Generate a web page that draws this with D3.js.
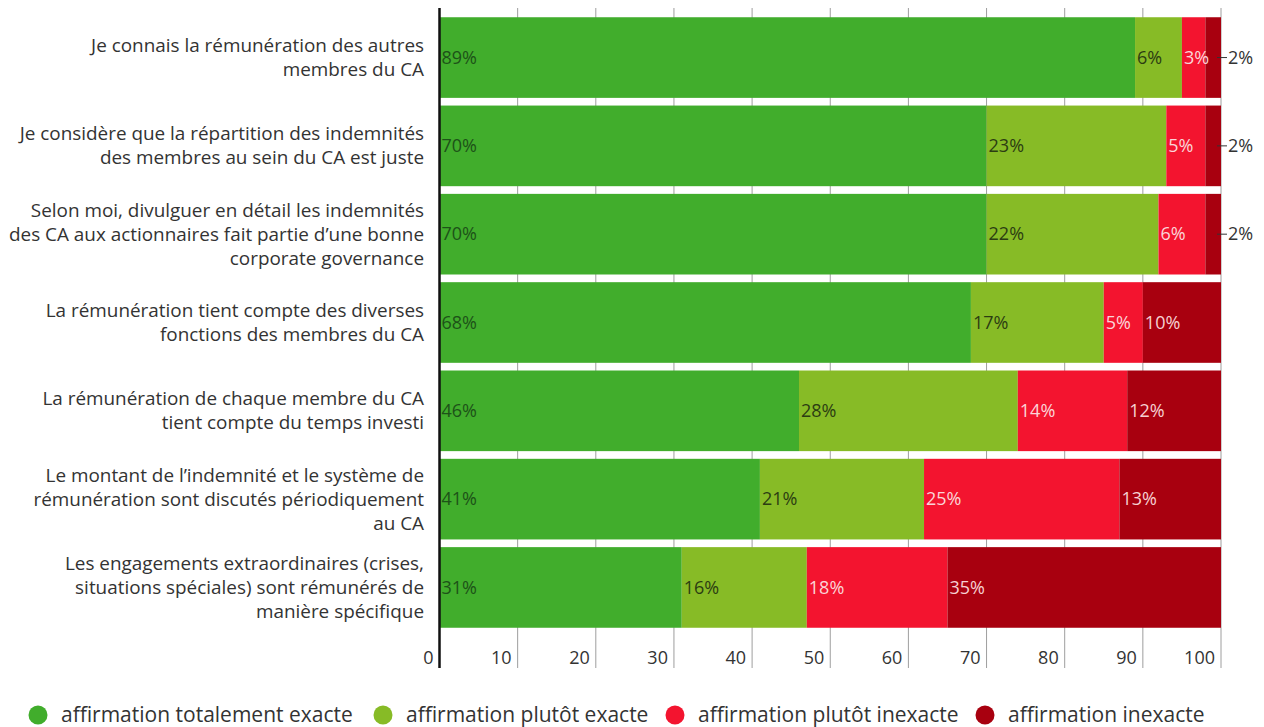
<!doctype html>
<html lang="fr">
<head>
<meta charset="utf-8">
<script src="https://cdn.jsdelivr.net/npm/d3@7"></script>
<style>
  body { margin: 0; background: #fff; }
  svg { font-family: "Open Sans", sans-serif; display: block; }
</style>
</head>
<body>
<div id="chart"></div>
<script>
// categories (each label split into its displayed lines)
var categories = [
  ["Je connais la rémunération des autres", "membres du CA"],
  ["Je considère que la répartition des indemnités", "des membres au sein du CA est juste"],
  ["Selon moi, divulguer en détail les indemnités", "des CA aux actionnaires fait partie d’une bonne", "corporate governance"],
  ["La rémunération tient compte des diverses", "fonctions des membres du CA"],
  ["La rémunération de chaque membre du CA", "tient compte du temps investi"],
  ["Le montant de l’indemnité et le système de", "rémunération sont discutés périodiquement", "au CA"],
  ["Les engagements extraordinaires (crises,", "situations spéciales) sont rémunérés de", "manière spécifique"]
];
var seriesNames = ["affirmation totalement exacte", "affirmation plutôt exacte", "affirmation plutôt inexacte", "affirmation inexacte"];
var totalementExacte = [89, 70, 70, 68, 46, 41, 31];
var plutotExacte     = [6, 23, 22, 17, 28, 21, 16];
var plutotInexacte   = [3, 5, 6, 5, 14, 25, 18];
var inexacte         = [2, 2, 2, 10, 12, 13, 35];
var xTicks = [0, 10, 20, 30, 40, 50, 60, 70, 80, 90, 100];

var colors = ["#41ad2c", "#87bb26", "#f3142f", "#a8000f"];
var labelColors = ["#1d5218", "#2c3d12", "#fbd4d8", "#f6d0d2"];

var W = 1264, H = 727;
var svg = d3.select("#chart").append("svg").attr("width", W).attr("height", H);

var x = d3.scaleLinear().domain([0, 100]).range([439.5, 1221]);
var y = d3.scaleBand().domain(d3.range(categories.length)).range([13.4, 631.6])
  .paddingInner(0.087).paddingOuter(0.0435);

// grid
var gTop = 8, gBot = 668;
svg.append("g").selectAll("line").data(xTicks.slice(1)).enter().append("line")
  .attr("x1", function(d) { return x(d); }).attr("x2", function(d) { return x(d); })
  .attr("y1", gTop).attr("y2", gBot)
  .attr("stroke", "#9e9e9e").attr("stroke-width", 1);

// stacked data
var series = [totalementExacte, plutotExacte, plutotInexacte, inexacte];
var rows = categories.map(function(c, i) {
  return { i: i, v0: series[0][i], v1: series[1][i], v2: series[2][i], v3: series[3][i] };
});
var stack = d3.stack().keys(["v0", "v1", "v2", "v3"])(rows);

var layers = svg.append("g").selectAll("g").data(stack).enter().append("g")
  .attr("fill", function(d, k) { return colors[k]; });

layers.selectAll("rect").data(function(d) { return d; }).enter().append("rect")
  .attr("x", function(d) { return x(d[0]); })
  .attr("width", function(d) { return x(d[1]) - x(d[0]); })
  .attr("y", function(d) { return y(d.data.i); })
  .attr("height", y.bandwidth());

// value labels (small ones go outside with a leader)
stack.forEach(function(layer, k) {
  layer.forEach(function(d) {
    var val = d[1] - d[0];
    var cy = y(d.data.i) + y.bandwidth() / 2;
    if (val >= 3) {
      svg.append("text")
        .attr("x", x(d[0]) + 2)
        .attr("y", cy)
        .attr("dy", "0.35em")
        .attr("font-size", 18)
        .attr("fill", labelColors[k])
        .text(val + "%");
    } else {
      svg.append("line")
        .attr("x1", x(d[1]) - 4).attr("x2", x(d[1]) + 6)
        .attr("y1", cy).attr("y2", cy)
        .attr("stroke", "#333").attr("stroke-width", 1);
      svg.append("text")
        .attr("x", x(d[1]) + 7)
        .attr("y", cy)
        .attr("dy", "0.35em")
        .attr("font-size", 18)
        .attr("fill", "#333")
        .text(val + "%");
    }
  });
});

// axis line at 0
svg.append("line").attr("x1", x(0)).attr("x2", x(0)).attr("y1", gTop).attr("y2", gBot)
  .attr("stroke", "#111").attr("stroke-width", 2.5);

// x tick labels
svg.append("g").selectAll("text").data(xTicks).enter().append("text")
  .attr("x", function(d) { return x(d) - 6; })
  .attr("y", 658)
  .attr("dy", "0.35em")
  .attr("text-anchor", "end")
  .attr("font-size", 18)
  .attr("fill", "#333")
  .text(function(d) { return d; });

// category labels
var lineH = 24;
categories.forEach(function(lines, i) {
  var cy = y(i) + y.bandwidth() / 2;
  var t = svg.append("text")
    .attr("text-anchor", "end")
    .attr("font-size", 18.9)
    .attr("fill", "#333");
  lines.forEach(function(l, j) {
    t.append("tspan")
      .attr("x", 424)
      .attr("y", cy + (j - (lines.length - 1) / 2) * lineH)
      .attr("dy", "0.35em")
      .text(l);
  });
});

// legend
var legendX = [38, 383, 675, 985];
var legend = svg.append("g").selectAll("g").data(seriesNames).enter().append("g")
  .attr("transform", function(d, k) { return "translate(" + legendX[k] + ",715)"; });
legend.append("circle").attr("r", 9.5).attr("fill", function(d, k) { return colors[k]; });
legend.append("text").attr("x", 23).attr("dy", "0.35em")
  .attr("font-size", 21).attr("fill", "#333")
  .text(function(d) { return d; });
</script>
</body>
</html>
